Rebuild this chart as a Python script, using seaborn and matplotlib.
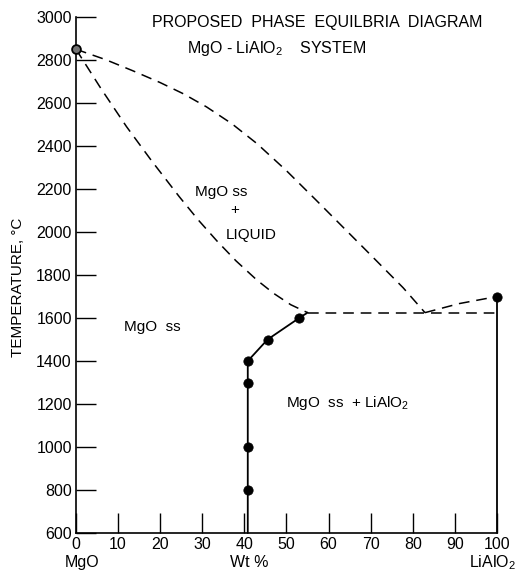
import matplotlib
matplotlib.use("Agg")
import matplotlib.pyplot as plt
import seaborn as sns

# phase boundaries (Wt % LiAlO2 vs temperature, C)
liquidus_wt = [0, 7, 13.5, 20, 25.5, 31, 37, 43, 50, 57, 63, 69, 77.7, 82.9]
liquidus_t = [2850, 2802, 2750, 2695, 2643, 2582, 2504, 2411, 2285, 2149, 2031, 1913, 1741, 1625]
solidus_wt = [0, 6, 12, 18, 24.5, 29, 33.5, 38, 43, 47, 51, 55]
solidus_t = [2850, 2665, 2490, 2330, 2165, 2057, 1958, 1866, 1776, 1714, 1662, 1625]
lialo2_liq_wt = [82.9, 91, 100]
lialo2_liq_t = [1625, 1667, 1700]
eutectic_wt = [55, 100]
eutectic_t = [1625, 1625]
solvus_wt = [40.8, 40.8, 45.5, 53, 55]
solvus_t = [600, 1400, 1500, 1600, 1625]
lialo2_wt = [100, 100]
lialo2_t = [600, 1700]

# measured points
point_wt = [40.8, 40.8, 40.8, 40.8, 45.5, 53, 100]
point_t = [800, 1000, 1300, 1400, 1500, 1600, 1700]
mgo_melt_wt = [0]
mgo_melt_t = [2850]

x_ticks = [0, 10, 20, 30, 40, 50, 60, 70, 80, 90, 100]
y_ticks = [600, 800, 1000, 1200, 1400, 1600, 1800, 2000, 2200, 2400, 2600, 2800, 3000]

sns.set_style("ticks")
plt.rcParams["font.family"] = ["Liberation Sans", "DejaVu Sans"]
plt.rcParams["mathtext.fontset"] = "custom"
plt.rcParams["mathtext.rm"] = "Liberation Sans"
plt.rcParams["mathtext.it"] = "Liberation Sans"
plt.rcParams["text.color"] = "black"

fig = plt.figure(figsize=(5.21, 5.75), dpi=100)
ax = fig.add_axes([0.1459, 0.073, 0.808, 0.8974])

dash = (0, (7, 4.5))
for xs, ys in [(liquidus_wt, liquidus_t), (solidus_wt, solidus_t),
               (lialo2_liq_wt, lialo2_liq_t), (eutectic_wt, eutectic_t)]:
    sns.lineplot(x=xs, y=ys, sort=False, estimator=None, ax=ax,
                 color="black", linewidth=1.1, linestyle=dash)
for xs, ys in [(solvus_wt, solvus_t), (lialo2_wt, lialo2_t)]:
    sns.lineplot(x=xs, y=ys, sort=False, estimator=None, ax=ax,
                 color="black", linewidth=1.3, clip_on=False)

sns.scatterplot(x=point_wt, y=point_t, ax=ax, color="black", s=45,
                edgecolor="black", zorder=5, clip_on=False)
sns.scatterplot(x=mgo_melt_wt, y=mgo_melt_t, ax=ax, color="0.45", s=40,
                edgecolor="black", linewidth=1.3, zorder=5, clip_on=False)

ax.set_xlim(0, 100)
ax.set_ylim(600, 3000)
ax.set_xticks(x_ticks)
ax.set_yticks(y_ticks)
ax.tick_params(direction="in", length=14.4, width=1, labelsize=11.5, pad=3,
               colors="black", labelcolor="black")
sns.despine(ax=ax, top=True, right=True)
for side in ["left", "bottom"]:
    ax.spines[side].set_linewidth(1.2)
    ax.spines[side].set_color("black")
ax.set_xlabel("")
ax.set_ylabel("")

# region labels
ax.text(34.4, 2186, "MgO ss", ha="center", va="center", fontsize=11)
ax.text(37.8, 2102, "+", ha="center", va="center", fontsize=11)
ax.text(41.6, 1986, "LIQUID", ha="center", va="center", fontsize=11)
ax.text(18.1, 1558, "MgO  ss", ha="center", va="center", fontsize=11)
ax.text(49.9, 1205, r"MgO  ss  + LiAlO$_{\mathrm{2}}$", ha="left", va="center", fontsize=11)

fig.text(0.609, 0.96, "PROPOSED  PHASE  EQUILBRIA  DIAGRAM", ha="center", va="center", fontsize=11.5)
fig.text(0.531, 0.9165, r"MgO - LiAlO$_{\mathrm{2}}$    SYSTEM", ha="center", va="center", fontsize=11.5)
fig.text(0.035, 0.50, "TEMPERATURE, °C", rotation=90, ha="center", va="center", fontsize=11)
fig.text(0.157, 0.0209, "MgO", ha="center", va="center", fontsize=11.5)
fig.text(0.478, 0.0209, "Wt %", ha="center", va="center", fontsize=11.5)
fig.text(0.946, 0.0209, r"LiAlO$_{\mathrm{2}}$", ha="center", va="center", fontsize=11.5)

fig.savefig("out.png", dpi=100)
